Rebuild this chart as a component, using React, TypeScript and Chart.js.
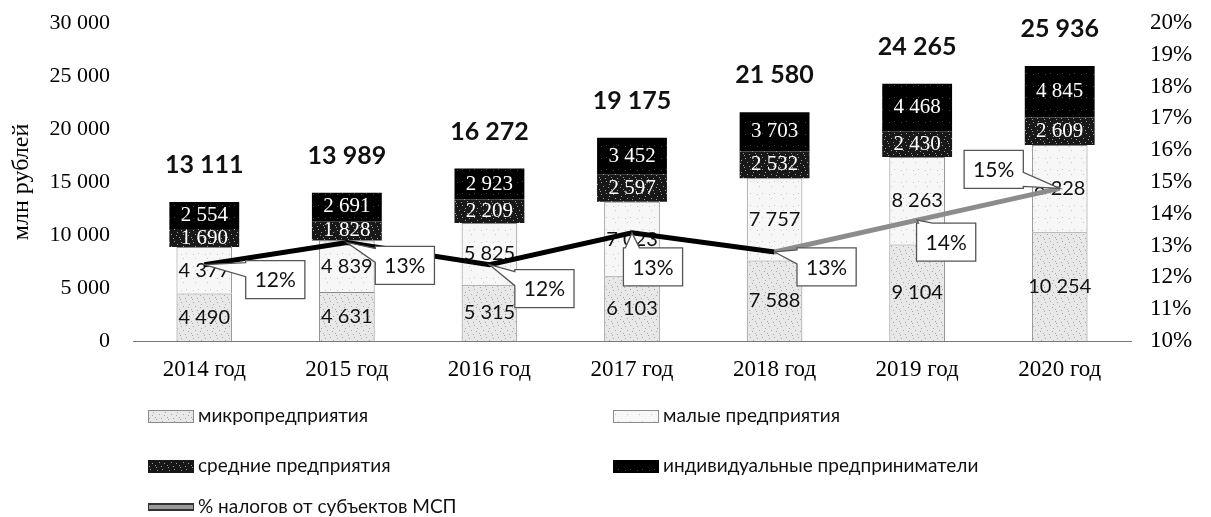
import React, { useEffect, useRef } from "react";
import { Chart, registerables } from "chart.js";

Chart.register(...registerables);

// ---------- data ----------
const categories = ["2014 год", "2015 год", "2016 год", "2017 год", "2018 год", "2019 год", "2020 год"];
const microValues = [4490, 4631, 5315, 6103, 7588, 9104, 10254];
const smallValues = [4377, 4839, 5825, 7023, 7757, 8263, 8228];
const mediumValues = [1690, 1828, 2209, 2597, 2532, 2430, 2609];
const entrepreneurValues = [2554, 2691, 2923, 3452, 3703, 4468, 4845];
const taxSharePercent = [12.4, 13.1, 12.4, 13.4, 12.8, 13.8, 14.8];
const seriesNames = [
  "микропредприятия",
  "малые предприятия",
  "средние предприятия",
  "индивидуальные предприниматели",
  "% налогов от субъектов МСП",
];
const leftAxisTitle = "млн рублей";
const leftMin = 0;
const leftMax = 30000;
const leftStep = 5000;
const rightMin = 10;
const rightMax = 20;
const rightStep = 1;

// ---------- styles ----------
const SERIF = '"Liberation Serif", "Times New Roman", serif';
const SANS = 'Lato, "Open Sans", sans-serif';
const CALLOUT_OFFSETS = [
  [71, 15],
  [58, 23],
  [55, 24],
  [21, 34],
  [52, 15],
  [29, 22],
  [-66, -19],
];
const LEGEND_LAYOUT = [
  { x: 148, y: 416 },
  { x: 613, y: 416 },
  { x: 148, y: 466 },
  { x: 613, y: 466 },
  { x: 148, y: 507 },
];
const BAR_BASE = ["#e8e8e8", "#f7f7f7", "#181818", "#000000"];
const BAR_DOTS = ["#a8a8a8", "#c8c8c8", "#9a9a9a", "#444444"];
const BAR_BORDERS = ["#8a8a8a", "#8a8a8a", "#181818", "#000000"];
const DOT_TILE = [
  [1, 2], [6, 1], [3, 6], [9, 4], [11, 9], [5, 10], [8, 7], [0, 11],
];
const LINE_INDEX = 4;

const fmt = (n: number) => String(Math.round(n)).replace(/\B(?=(\d{3})+(?!\d))/g, " ");

function makePattern(base: string, dot: string, density: number): CanvasPattern | string {
  const c = document.createElement("canvas");
  c.width = 12;
  c.height = 12;
  const g = c.getContext("2d");
  if (!g) return base;
  g.fillStyle = base;
  g.fillRect(0, 0, 12, 12);
  g.fillStyle = dot;
  DOT_TILE.slice(0, density).forEach(([x, y]) => g.fillRect(x, y, 1, 1));
  const p = g.createPattern(c, "repeat");
  return p || base;
}

function drawBarLabels(chart: any) {
  const ctx = chart.ctx as CanvasRenderingContext2D;
  ctx.save();
  ctx.textAlign = "center";
  ctx.textBaseline = "middle";
  const all = [microValues, smallValues, mediumValues, entrepreneurValues];
  for (let d = 0; d < 4; d++) {
    const meta = chart.getDatasetMeta(d);
    meta.data.forEach((el: any, i: number) => {
      const cy = (el.y + el.base) / 2;
      if (d < 2) {
        ctx.fillStyle = "#111";
        ctx.font = `20px ${SANS}`;
      } else {
        ctx.fillStyle = "#fff";
        ctx.font = `21px ${SERIF}`;
      }
      ctx.fillText(fmt(all[d][i]), el.x, cy);
    });
  }
  const topMeta = chart.getDatasetMeta(3);
  ctx.fillStyle = "#111";
  ctx.font = `bold 25px ${SANS}`;
  topMeta.data.forEach((el: any, i: number) => {
    const total = microValues[i] + smallValues[i] + mediumValues[i] + entrepreneurValues[i];
    ctx.fillText(fmt(total), el.x, el.y - 37);
  });
  ctx.restore();
}

function drawCallouts(chart: any) {
  const ctx = chart.ctx as CanvasRenderingContext2D;
  const meta = chart.getDatasetMeta(LINE_INDEX);
  ctx.save();
  ctx.font = `21px ${SANS}`;
  meta.data.forEach((el: any, i: number) => {
    const px = el.x;
    const py = el.y;
    const text = Math.round(taxSharePercent[i]) + "%";
    const tw = ctx.measureText(text).width;
    const w = tw + 18;
    const h = 38;
    const cx = px + CALLOUT_OFFSETS[i][0];
    const cy = py + CALLOUT_OFFSETS[i][1];
    const x0 = cx - w / 2;
    const x1 = cx + w / 2;
    const y0 = cy - h / 2;
    const y1 = cy + h / 2;
    const rx = (px - cx) / (w / 2);
    const ry = (py - cy) / (h / 2);
    let side: string;
    if (Math.abs(rx) > Math.abs(ry)) side = rx < 0 ? "left" : "right";
    else side = ry < 0 ? "top" : "bottom";
    const hw = 7;
    const clamp = (v: number, a: number, b: number) => Math.max(a, Math.min(b, v));
    ctx.beginPath();
    ctx.moveTo(x0, y0);
    if (side === "top") {
      const t = clamp(px, x0 + hw + 2, x1 - hw - 2);
      ctx.lineTo(t - hw, y0);
      ctx.lineTo(px, py);
      ctx.lineTo(t + hw, y0);
    }
    ctx.lineTo(x1, y0);
    if (side === "right") {
      const t = clamp(py, y0 + hw + 2, y1 - hw - 2);
      ctx.lineTo(x1, t - hw);
      ctx.lineTo(px, py);
      ctx.lineTo(x1, t + hw);
    }
    ctx.lineTo(x1, y1);
    if (side === "bottom") {
      const t = clamp(px, x0 + hw + 2, x1 - hw - 2);
      ctx.lineTo(t + hw, y1);
      ctx.lineTo(px, py);
      ctx.lineTo(t - hw, y1);
    }
    ctx.lineTo(x0, y1);
    if (side === "left") {
      const t = clamp(py, y0 + hw + 2, y1 - hw - 2);
      ctx.lineTo(x0, t + hw);
      ctx.lineTo(px, py);
      ctx.lineTo(x0, t - hw);
    }
    ctx.closePath();
    ctx.fillStyle = "#fff";
    ctx.fill();
    ctx.strokeStyle = "#555";
    ctx.lineWidth = 1.3;
    ctx.stroke();
    ctx.fillStyle = "#111";
    ctx.textAlign = "center";
    ctx.textBaseline = "middle";
    ctx.fillText(text, cx, cy + 1);
  });
  ctx.restore();
}

function drawLegend(chart: any, fills: any[]) {
  const ctx = chart.ctx as CanvasRenderingContext2D;
  ctx.save();
  ctx.font = `19px ${SANS}`;
  ctx.textBaseline = "middle";
  ctx.textAlign = "left";
  seriesNames.forEach((name, i) => {
    const { x, y } = LEGEND_LAYOUT[i];
    if (i < 4) {
      ctx.fillStyle = fills[i];
      ctx.fillRect(x, y - 6, 46, 13);
      ctx.strokeStyle = BAR_BORDERS[i];
      ctx.lineWidth = 1;
      ctx.strokeRect(x + 0.5, y - 5.5, 45, 12);
    } else {
      ctx.fillStyle = "#333";
      ctx.fillRect(x, y - 4, 46, 8);
      ctx.fillStyle = "#9a9a9a";
      ctx.fillRect(x + 1, y - 2, 44, 4);
    }
    ctx.fillStyle = "#111";
    ctx.fillText(name, x + 50, y);
  });
  ctx.restore();
}

const noOverflowPadding = (s: any) => {
  s.paddingTop = 0;
  s.paddingBottom = 0;
  s.paddingLeft = 0;
  s.paddingRight = 0;
};

export default function App() {
  const ref = useRef<HTMLCanvasElement | null>(null);
  useEffect(() => {
    if (!ref.current) return;
    const fills = BAR_BASE.map((b, i) => makePattern(b, BAR_DOTS[i], i === 1 ? 3 : i === 3 ? 2 : 8));
    const overlayPlugin = {
      id: "overlayLabels",
      beforeDatasetDraw(chart: any, args: any) {
        if (args.index === LINE_INDEX) drawBarLabels(chart);
      },
      afterDatasetsDraw(chart: any) {
        drawCallouts(chart);
      },
      afterDraw(chart: any) {
        drawLegend(chart, fills);
      },
    };
    const barSeries = [microValues, smallValues, mediumValues, entrepreneurValues];
    const chart = new Chart(ref.current, {
      type: "bar",
      data: {
        labels: categories,
        datasets: [
          ...barSeries.map((vals, i) => ({
            type: "bar" as const,
            label: seriesNames[i],
            data: vals,
            backgroundColor: fills[i],
            borderColor: BAR_BORDERS[i],
            borderWidth: i < 2 ? 1 : 0,
            barPercentage: i < 2 ? 0.39 : 0.49,
            categoryPercentage: 1,
            yAxisID: "y",
            stack: "s",
            order: 1,
          })),
          {
            type: "line" as const,
            label: seriesNames[4],
            data: taxSharePercent,
            yAxisID: "y1",
            borderColor: "#000",
            borderWidth: 5,
            pointRadius: 0,
            tension: 0,
            order: 0,
            segment: {
              borderColor: (c: any) => (c.p0DataIndex >= 4 ? "#8c8c8c" : "#000"),
            },
          } as any,
        ],
      },
      options: {
        animation: false,
        responsive: false,
        maintainAspectRatio: false,
        layout: { padding: { top: 23, left: 0, right: 0, bottom: 0 } },
        plugins: {
          legend: { display: false },
          tooltip: { enabled: false },
        },
        scales: {
          x: {
            stacked: true,
            grid: { display: false, drawTicks: false },
            border: { display: true, color: "#7a7a7a", width: 1 },
            ticks: { color: "#000", font: { family: SERIF, size: 23 }, padding: 15, autoSkip: false, maxRotation: 0 },
            afterFit: (s: any) => {
              s.height = 176;
              noOverflowPadding(s);
            },
          },
          y: {
            stacked: true,
            position: "left",
            min: leftMin,
            max: leftMax,
            grid: { display: false, drawTicks: false },
            border: { display: false },
            ticks: {
              stepSize: leftStep,
              autoSkip: false,
              color: "#000",
              font: { family: SERIF, size: 22 },
              padding: 23,
              callback: (v: any) => fmt(Number(v)),
            },
            title: {
              display: true,
              text: leftAxisTitle,
              color: "#000",
              font: { family: SERIF, size: 24 },
              padding: { top: 7, bottom: 0 },
            },
            afterFit: (s: any) => {
              s.width = 133;
              noOverflowPadding(s);
            },
          },
          y1: {
            position: "right",
            min: rightMin,
            max: rightMax,
            grid: { display: false, drawTicks: false },
            border: { display: false },
            ticks: {
              stepSize: rightStep,
              autoSkip: false,
              color: "#000",
              font: { family: SERIF, size: 23 },
              padding: 19,
              callback: (v: any) => `${v}%`,
            },
            afterFit: (s: any) => {
              s.width = 80;
              noOverflowPadding(s);
            },
          },
        },
      } as any,
      plugins: [overlayPlugin],
    });
    return () => chart.destroy();
  }, []);
  return (
    <div style={{ position: "fixed", left: 0, top: 0, width: 1211, height: 517, background: "#fff" }}>
      <canvas ref={ref} width={1211} height={517} />
    </div>
  );
}
